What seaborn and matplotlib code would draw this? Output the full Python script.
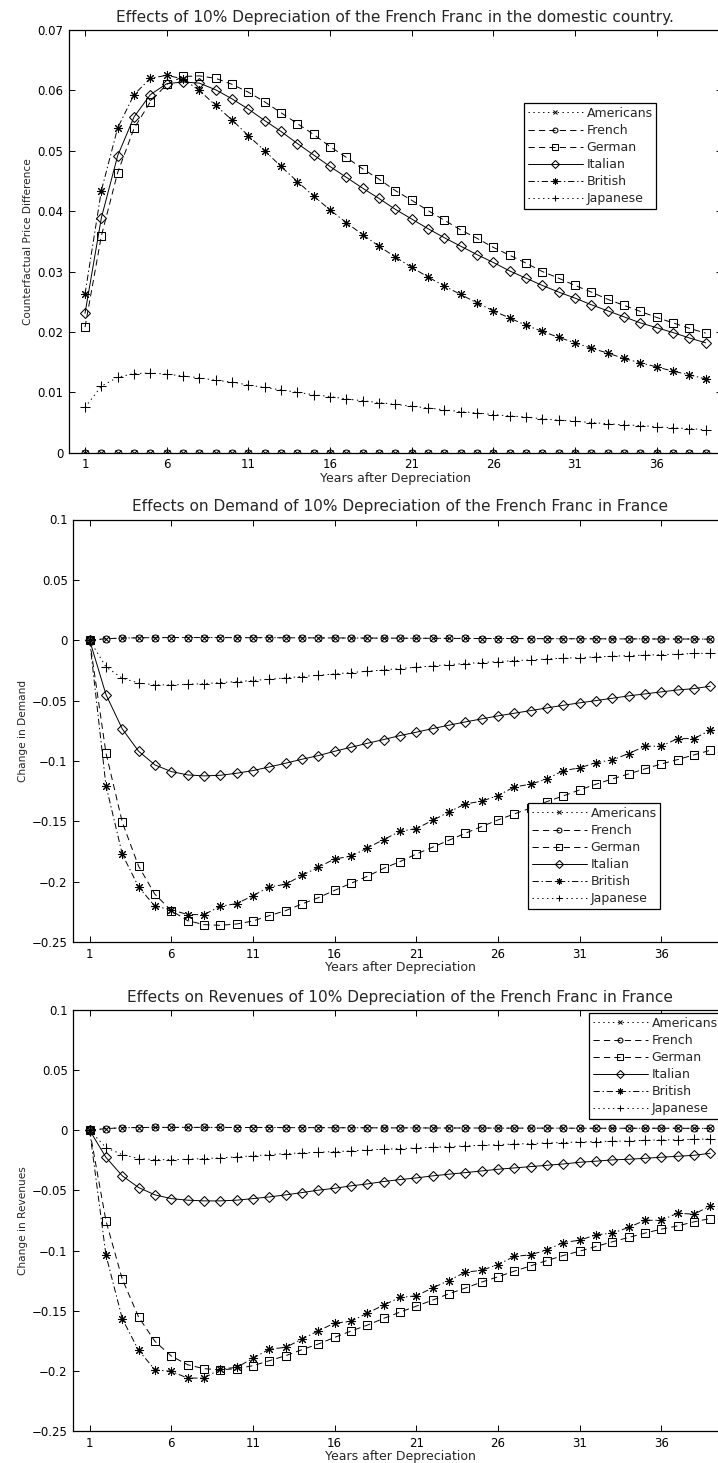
import matplotlib
matplotlib.use("Agg")
import matplotlib.pyplot as plt
import seaborn as sns
import pandas as pd

# ---------------- data ----------------
years = list(range(1, 40))
xticks = [1, 6, 11, 16, 21, 26, 31, 36]
series_names = ["Americans", "French", "German", "Italian", "British", "Japanese"]

# Panel 1: counterfactual price difference
price_americans = [0.0, 0.0, 0.0, 0.0, 0.0, 0.0, 0.0, 0.0, 0.0, 0.0,
                   0.0, 0.0, 0.0, 0.0, 0.0, 0.0, 0.0, 0.0, 0.0, 0.0,
                   0.0, 0.0, 0.0, 0.0, 0.0, 0.0, 0.0, 0.0, 0.0, 0.0,
                   0.0, 0.0, 0.0, 0.0, 0.0, 0.0, 0.0, 0.0, 0.0]
price_french = [0.0, 0.0, 0.0, 0.0, 0.0, 0.0, 0.0, 0.0, 0.0, 0.0,
                0.0, 0.0, 0.0, 0.0, 0.0, 0.0, 0.0, 0.0, 0.0, 0.0,
                0.0, 0.0, 0.0, 0.0, 0.0, 0.0, 0.0, 0.0, 0.0, 0.0,
                0.0, 0.0, 0.0, 0.0, 0.0, 0.0, 0.0, 0.0, 0.0]
price_german = [0.0208, 0.0359, 0.0464, 0.0537, 0.0581, 0.0610, 0.0623, 0.0624, 0.0620, 0.0610,
                0.0597, 0.0581, 0.0563, 0.0545, 0.0527, 0.0507, 0.0489, 0.0470, 0.0453, 0.0434,
                0.0418, 0.0401, 0.0385, 0.0369, 0.0355, 0.0340, 0.0327, 0.0314, 0.0300, 0.0289,
                0.0277, 0.0266, 0.0254, 0.0244, 0.0234, 0.0224, 0.0215, 0.0206, 0.0198]
price_italian = [0.0231, 0.0389, 0.0492, 0.0556, 0.0593, 0.0611, 0.0614, 0.0612, 0.0601, 0.0586,
                 0.0569, 0.0550, 0.0532, 0.0512, 0.0493, 0.0474, 0.0456, 0.0438, 0.0421, 0.0403,
                 0.0387, 0.0371, 0.0356, 0.0342, 0.0328, 0.0315, 0.0301, 0.0289, 0.0277, 0.0266,
                 0.0256, 0.0245, 0.0235, 0.0225, 0.0215, 0.0207, 0.0199, 0.0190, 0.0182]
price_british = [0.0263, 0.0434, 0.0538, 0.0593, 0.0620, 0.0625, 0.0619, 0.0600, 0.0575, 0.0551,
                 0.0525, 0.0500, 0.0474, 0.0449, 0.0425, 0.0402, 0.0381, 0.0361, 0.0342, 0.0324,
                 0.0307, 0.0291, 0.0276, 0.0262, 0.0248, 0.0235, 0.0223, 0.0211, 0.0201, 0.0191,
                 0.0182, 0.0173, 0.0165, 0.0156, 0.0149, 0.0142, 0.0135, 0.0129, 0.0122]
price_japanese = [0.0075, 0.0110, 0.0125, 0.0131, 0.0132, 0.0130, 0.0127, 0.0124, 0.0120, 0.0117,
                  0.0112, 0.0108, 0.0104, 0.0100, 0.0096, 0.0093, 0.0089, 0.0086, 0.0083, 0.0080,
                  0.0077, 0.0074, 0.0071, 0.0068, 0.0066, 0.0063, 0.0061, 0.0059, 0.0056, 0.0054,
                  0.0052, 0.0050, 0.0048, 0.0046, 0.0045, 0.0043, 0.0041, 0.0040, 0.0038]

# Panel 2: change in demand
demand_americans = [0.0, 0.0012, 0.0018, 0.0020, 0.0021, 0.0022, 0.0022, 0.0022, 0.0022, 0.0021,
                    0.0021, 0.0021, 0.0020, 0.0020, 0.0019, 0.0019, 0.0018, 0.0018, 0.0017, 0.0017,
                    0.0016, 0.0016, 0.0015, 0.0015, 0.0014, 0.0014, 0.0014, 0.0013, 0.0013, 0.0012,
                    0.0012, 0.0012, 0.0011, 0.0011, 0.0011, 0.0010, 0.0010, 0.0010, 0.0009]
demand_french = [0.0, 0.0012, 0.0018, 0.0020, 0.0021, 0.0022, 0.0022, 0.0022, 0.0022, 0.0021,
                 0.0021, 0.0021, 0.0020, 0.0020, 0.0019, 0.0019, 0.0018, 0.0018, 0.0017, 0.0017,
                 0.0016, 0.0016, 0.0015, 0.0015, 0.0014, 0.0014, 0.0014, 0.0013, 0.0013, 0.0012,
                 0.0012, 0.0012, 0.0011, 0.0011, 0.0011, 0.0010, 0.0010, 0.0010, 0.0009]
demand_german = [0.0, -0.0934, -0.1508, -0.1873, -0.2105, -0.2240, -0.2323, -0.2356, -0.2362, -0.2351,
                 -0.2326, -0.2282, -0.2240, -0.2185, -0.2133, -0.2072, -0.2014, -0.1956, -0.1890, -0.1834,
                 -0.1771, -0.1715, -0.1657, -0.1599, -0.1544, -0.1489, -0.1439, -0.1390, -0.1337, -0.1290,
                 -0.1240, -0.1193, -0.1149, -0.1108, -0.1066, -0.1025, -0.0989, -0.0950, -0.0912]
demand_italian = [0.0, -0.0450, -0.0735, -0.0920, -0.1033, -0.1088, -0.1116, -0.1124, -0.1119, -0.1102,
                  -0.1080, -0.1050, -0.1019, -0.0986, -0.0956, -0.0920, -0.0887, -0.0854, -0.0823, -0.0790,
                  -0.0762, -0.0732, -0.0704, -0.0677, -0.0652, -0.0627, -0.0605, -0.0583, -0.0561, -0.0539,
                  -0.0519, -0.0500, -0.0481, -0.0461, -0.0445, -0.0428, -0.0412, -0.0401, -0.0381]
demand_british = [0.0, -0.1204, -0.1773, -0.2044, -0.2204, -0.2232, -0.2273, -0.2273, -0.2204, -0.2182,
                  -0.2116, -0.2044, -0.2022, -0.1948, -0.1881, -0.1812, -0.1790, -0.1721, -0.1652, -0.1583,
                  -0.1561, -0.1492, -0.1423, -0.1356, -0.1334, -0.1287, -0.1215, -0.1193, -0.1149, -0.1080,
                  -0.1058, -0.1014, -0.0992, -0.0939, -0.0878, -0.0878, -0.0815, -0.0815, -0.0746]
demand_japanese = [0.0, -0.0221, -0.0315, -0.0354, -0.0370, -0.0370, -0.0365, -0.0360, -0.0351, -0.0343,
                   -0.0334, -0.0323, -0.0312, -0.0301, -0.0290, -0.0279, -0.0268, -0.0257, -0.0246, -0.0235,
                   -0.0224, -0.0213, -0.0202, -0.0193, -0.0185, -0.0177, -0.0169, -0.0163, -0.0155, -0.0149,
                   -0.0144, -0.0138, -0.0133, -0.0127, -0.0124, -0.0119, -0.0116, -0.0110, -0.0108]

# Panel 3: change in revenues
revenue_americans = [0.0, 0.0014, 0.0021, 0.0023, 0.0024, 0.0024, 0.0024, 0.0024, 0.0024, 0.0023,
                     0.0023, 0.0023, 0.0022, 0.0022, 0.0022, 0.0021, 0.0021, 0.0021, 0.0020, 0.0020,
                     0.0020, 0.0019, 0.0019, 0.0019, 0.0019, 0.0018, 0.0018, 0.0018, 0.0018, 0.0018,
                     0.0017, 0.0017, 0.0017, 0.0017, 0.0017, 0.0017, 0.0017, 0.0016, 0.0016]
revenue_french = [0.0, 0.0014, 0.0021, 0.0023, 0.0024, 0.0024, 0.0024, 0.0024, 0.0024, 0.0023,
                  0.0023, 0.0023, 0.0022, 0.0022, 0.0022, 0.0021, 0.0021, 0.0021, 0.0020, 0.0020,
                  0.0020, 0.0019, 0.0019, 0.0019, 0.0019, 0.0018, 0.0018, 0.0018, 0.0018, 0.0018,
                  0.0017, 0.0017, 0.0017, 0.0017, 0.0017, 0.0017, 0.0017, 0.0016, 0.0016]
revenue_german = [0.0, -0.0753, -0.1238, -0.1553, -0.1755, -0.1877, -0.1949, -0.1982, -0.1991, -0.1982,
                  -0.1957, -0.1916, -0.1874, -0.1824, -0.1777, -0.1722, -0.1669, -0.1620, -0.1564, -0.1512,
                  -0.1462, -0.1412, -0.1359, -0.1312, -0.1262, -0.1218, -0.1171, -0.1127, -0.1083, -0.1041,
                  -0.1005, -0.0966, -0.0927, -0.0891, -0.0855, -0.0822, -0.0795, -0.0761, -0.0734]
revenue_italian = [0.0, -0.0225, -0.0379, -0.0476, -0.0537, -0.0568, -0.0581, -0.0587, -0.0587, -0.0581,
                   -0.0568, -0.0554, -0.0537, -0.0518, -0.0498, -0.0482, -0.0462, -0.0446, -0.0426, -0.0410,
                   -0.0396, -0.0379, -0.0365, -0.0352, -0.0338, -0.0324, -0.0313, -0.0302, -0.0291, -0.0280,
                   -0.0266, -0.0257, -0.0246, -0.0241, -0.0233, -0.0224, -0.0216, -0.0208, -0.0191]
revenue_british = [0.0, -0.1038, -0.1567, -0.1830, -0.1991, -0.2004, -0.2060, -0.2060, -0.1985, -0.1971,
                   -0.1896, -0.1819, -0.1805, -0.1736, -0.1667, -0.1603, -0.1589, -0.1520, -0.1453, -0.1390,
                   -0.1376, -0.1310, -0.1249, -0.1179, -0.1165, -0.1116, -0.1049, -0.1035, -0.0994, -0.0933,
                   -0.0914, -0.0869, -0.0855, -0.0808, -0.0748, -0.0748, -0.0689, -0.0698, -0.0628]
revenue_japanese = [0.0, -0.0144, -0.0202, -0.0235, -0.0244, -0.0244, -0.0241, -0.0235, -0.0230, -0.0221,
                    -0.0213, -0.0202, -0.0194, -0.0188, -0.0183, -0.0177, -0.0172, -0.0163, -0.0158, -0.0152,
                    -0.0147, -0.0141, -0.0136, -0.0130, -0.0125, -0.0119, -0.0114, -0.0111, -0.0105, -0.0102,
                    -0.0097, -0.0094, -0.0091, -0.0089, -0.0083, -0.0080, -0.0078, -0.0075, -0.0072]

yticks_price = [0, 0.01, 0.02, 0.03, 0.04, 0.05, 0.06, 0.07]
yticklabels_price = ["0", "0.01", "0.02", "0.03", "0.04", "0.05", "0.06", "0.07"]
yticks_change = [-0.25, -0.2, -0.15, -0.1, -0.05, 0, 0.05, 0.1]
yticklabels_change = ["\u22120.25", "\u22120.2", "\u22120.15", "\u22120.1", "\u22120.05", "0", "0.05", "0.1"]

titles = ["Effects of 10% Depreciation of the French Franc in the domestic country.",
          "Effects on Demand of 10% Depreciation of the French Franc in France",
          "Effects on Revenues of 10% Depreciation of the French Franc in France"]
ylabels = ["Counterfactual Price Difference", "Change in Demand", "Change in Revenues"]
xlabel = "Years after Depreciation"

# ---------------- style ----------------
sns.set_style("ticks")
plt.rcParams["font.family"] = ["DejaVu Sans"]
plt.rcParams["lines.scale_dashes"] = False

styles = {
    "Americans": dict(linestyle=(0, (1, 2.5)), marker="x", ms=4.8),
    "French": dict(linestyle=(0, (4.5, 3)), marker="o", ms=5.0),
    "German": dict(linestyle=(0, (4.5, 3)), marker="s", ms=6.2),
    "Italian": dict(linestyle="-", marker="D", ms=5.6),
    "British": dict(linestyle=(0, (4.5, 2, 1, 2)), marker=(8, 2, 0), ms=6.5),
    "Japanese": dict(linestyle=(0, (1, 2.5)), marker="+", ms=6.5),
}

panels = [
    [price_americans, price_french, price_german, price_italian, price_british, price_japanese],
    [demand_americans, demand_french, demand_german, demand_italian, demand_british, demand_japanese],
    [revenue_americans, revenue_french, revenue_german, revenue_italian, revenue_british, revenue_japanese],
]

W, H = 718, 1463
fig = plt.figure(figsize=(W / 100, H / 100), dpi=100)

axes_px = [  # left, top, right, bottom in pixels
    (68.7, 30.0, 722.0, 452.7),
    (73.3, 519.5, 726.6, 942.0),
    (73.3, 1010.0, 726.6, 1431.0),
]
legend_px = [(524, 103), (528, 803), (589, 1013)]

for i, (vals_list, (l, t, r, b)) in enumerate(zip(panels, axes_px)):
    ax = fig.add_axes([l / W, 1 - b / H, (r - l) / W, (b - t) / H])
    for name, vals in zip(series_names, vals_list):
        st = styles[name]
        df = pd.DataFrame({"Year": years, "Value": vals})
        sns.lineplot(data=df, x="Year", y="Value", ax=ax, color="black",
                     linestyle=st["linestyle"], marker=st["marker"], markersize=st["ms"],
                     markerfacecolor="none", markeredgecolor="black", markeredgewidth=0.75,
                     linewidth=0.7, label=name)
    ax.set_xlim(0, 40)
    ax.set_xticks(xticks)
    ax.set_xticklabels([str(x) for x in xticks])
    if i == 0:
        ax.set_ylim(0, 0.07)
        ax.set_yticks(yticks_price)
        ax.set_yticklabels(yticklabels_price)
    else:
        ax.set_ylim(-0.25, 0.1)
        ax.set_yticks(yticks_change)
        ax.set_yticklabels(yticklabels_change)
    ax.tick_params(direction="in", length=4, width=0.7, top=True, right=True,
                   labelsize=8.5, pad=4.0, colors="black")
    for sp in ax.spines.values():
        sp.set_visible(True)
        sp.set_color("black")
        sp.set_linewidth(0.9)
    ax.set_title(titles[i], fontsize=11.1, pad=6.0)
    ax.set_xlabel(xlabel, fontsize=9.0, labelpad=0.5)
    ax.set_ylabel(ylabels[i], fontsize=7.6, labelpad=3)
    lx, ly = legend_px[i]
    leg = ax.legend(loc="upper left", bbox_to_anchor=(lx / W, 1 - ly / H),
                    bbox_transform=fig.transFigure, fontsize=9.0, frameon=True,
                    fancybox=False, framealpha=1, edgecolor="black", handlelength=4.4,
                    handletextpad=0.3, labelspacing=0.33, borderpad=0.3, borderaxespad=0,
                    markerscale=0.7, numpoints=1)
    leg.get_frame().set_linewidth(0.9)

fig.savefig("out.png", dpi=100)
